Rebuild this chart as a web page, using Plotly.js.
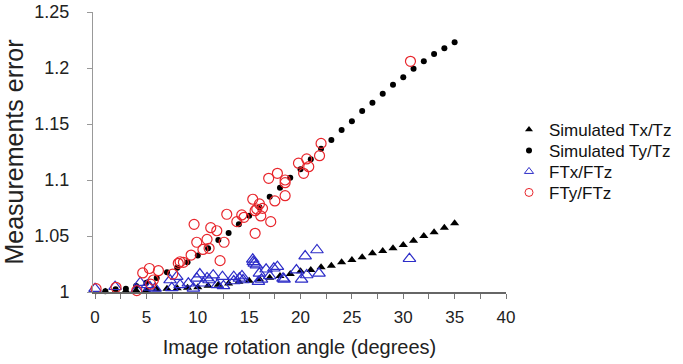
<!DOCTYPE html>
<html>
<head>
<meta charset="utf-8">
<script src="https://cdn.plot.ly/plotly-3.0.1.min.js"></script>
<style>html,body{margin:0;padding:0;background:#fff;}#chart{width:683px;height:364px;}</style>
</head>
<body>
<div id="chart"></div>
<script>
// Simulated series (every degree from 1 to 35)
var simAngle = [1,2,3,4,5,6,7,8,9,10,11,12,13,14,15,16,17,18,19,20,21,22,23,24,25,26,27,28,29,30,31,32,33,34,35];
var simTx = [1.0003,1.0006,1.0010,1.0014,1.0018,1.0024,1.0028,1.0033,1.0037,1.0042,1.0056,1.0065,1.0077,1.0092,1.0100,1.0113,1.0128,1.0143,1.0160,1.0185,1.0196,1.0220,1.0235,1.0265,1.0286,1.0310,1.0345,1.0366,1.0390,1.0420,1.0458,1.0500,1.0533,1.0574,1.0613];
var simTy = [1.0006,1.0024,1.0030,1.0054,1.0083,1.0125,1.0176,1.0217,1.0265,1.0327,1.0390,1.0464,1.0527,1.0604,1.0680,1.0756,1.0850,1.0930,1.1020,1.1095,1.1185,1.1280,1.1357,1.1446,1.1524,1.1616,1.1690,1.1770,1.1850,1.1917,1.1994,1.2060,1.2125,1.2176,1.2230];

// Measured FTx/FTz
var ftxAngle = [0,1.95,4.06,4.4,5.1,5.36,5.84,7.3,7.47,7.95,8.28,9.08,9.57,9.9,10.2,10.55,10.9,11.1,11.5,11.9,12.4,12.5,13.5,13.5,14.05,14.3,14.4,15.35,15.4,15.5,15.7,15.9,16.0,16.2,16.65,17.0,17.4,17.75,18.3,18.4,19.6,20.1,20.45,20.6,21.6,21.8,30.6];
var ftxVal = [1.0030,1.0047,1.0018,1.0083,1.0063,1.0042,1.0033,1.0107,1.0036,1.0137,1.0063,1.0078,1.0033,1.0122,1.0160,1.0078,1.0125,1.0107,1.0150,1.0063,1.0137,1.0054,1.0098,1.0137,1.0122,1.0143,1.0107,1.0292,1.0270,1.0256,1.0240,1.0092,1.0167,1.0113,1.0203,1.0143,1.0212,1.0226,1.0122,1.0113,1.0196,1.0113,1.0321,1.0152,1.0375,1.0167,1.0297];

// Measured FTy/FTz
var ftyAngle = [0.1,2.04,4.06,4.64,5.29,5.42,5.68,6.17,7.56,8.1,8.28,8.6,9.35,9.64,9.9,10.5,10.9,11.1,11.26,11.85,12.17,12.56,12.82,13.8,14.28,14.5,15.35,15.58,15.74,15.58,16.0,16.13,16.3,16.9,17.1,17.5,17.75,18.5,18.5,18.5,19.8,20.3,20.6,20.8,21.85,22.0,30.7];
var ftyVal = [1.0030,1.0042,1.0012,1.0170,1.0210,1.0070,1.0107,1.0190,1.0160,1.0256,1.0270,1.0265,1.0330,1.0604,1.0444,1.0380,1.0470,1.0390,1.0574,1.0547,1.0280,1.0444,1.0694,1.0628,1.0688,1.0667,1.0828,1.0726,1.0741,1.0524,1.0786,1.0679,1.0747,1.1015,1.0628,1.0813,1.1060,1.1000,1.0976,1.0860,1.1150,1.1060,1.1188,1.1119,1.1217,1.1327,1.2060];

var seriesNames = ['Simulated Tx/Tz', 'Simulated Ty/Tz', 'FTx/FTz', 'FTy/FTz'];
var xTicks = [0,5,10,15,20,25,30,35,40];
var yTicks = [1,1.05,1.1,1.15,1.2,1.25];
var yTickText = ['1','1.05','1.1','1.15','1.2','1.25'];

var FONT = 'Liberation Sans, Arial, sans-serif';
var RED = '#e8262c';
var BLUE = '#2d2dc8';

var markerStyles = [
  {symbol: 'triangle-up', color: '#000', size: 8},
  {symbol: 'circle', color: '#000', size: 6},
  {symbol: 'triangle-up-open', color: BLUE, size: 11, line: {width: 1.2, color: BLUE}},
  {symbol: 'circle-open', color: RED, size: 10, line: {width: 1.2, color: RED}}
];
var legendMarkers = [
  {symbol: 'triangle-up', color: '#000', size: 7},
  {symbol: 'circle', color: '#000', size: 6},
  {symbol: 'triangle-up-open', color: BLUE, size: 8, line: {width: 1, color: BLUE}},
  {symbol: 'circle-open', color: RED, size: 8, line: {width: 1, color: RED}}
];
var xs = [simAngle, simAngle, ftxAngle, ftyAngle];
var ys = [simTx, simTy, ftxVal, ftyVal];
var legendIds = ['legend', 'legend2', 'legend3', 'legend4'];
var legendRowY = [0.579, 0.504, 0.429, 0.354];

var traces = [];
for (var i = 0; i < 4; i++) {
  traces.push({x: xs[i], y: ys[i], name: seriesNames[i], type: 'scatter', mode: 'markers',
               cliponaxis: false, showlegend: false, marker: markerStyles[i]});
}
// legend-only entries (no data points)
for (var j = 0; j < 4; j++) {
  traces.push({x: [null], y: [null], name: seriesNames[j], type: 'scatter', mode: 'markers',
               showlegend: true, legend: legendIds[j], marker: legendMarkers[j]});
}

var layout = {
  width: 683, height: 364,
  margin: {l: 93, r: 177, t: 12, b: 72},
  paper_bgcolor: '#fff', plot_bgcolor: '#fff',
  font: {family: FONT, color: '#222', size: 17},
  xaxis: {
    range: [-0.2, 40], tickvals: xTicks, ticks: 'outside', ticklen: 5, tickcolor: '#777',
    showline: true, linecolor: '#666', linewidth: 1.5, showgrid: false, zeroline: false,
    minor: {dtick: 2.5, tick0: 0, ticks: 'outside', ticklen: 5, tickcolor: '#777', showgrid: false},
    tickfont: {family: FONT, size: 17, color: '#222'}, ticklabelstandoff: 4,
    title: {text: 'Image rotation angle (degrees)', font: {family: FONT, size: 20, color: '#222'}, standoff: 14}
  },
  yaxis: {
    range: [1, 1.25], tickvals: yTicks, ticktext: yTickText, ticks: 'outside', ticklen: 5, tickcolor: '#999',
    showline: true, linecolor: '#999', linewidth: 1, showgrid: false, zeroline: false,
    tickfont: {family: FONT, size: 18, color: '#222'}, ticklabelstandoff: 14,
    title: {text: 'Measurements error', font: {family: FONT, size: 25, color: '#222'}, standoff: 8}
  }
};
for (var k = 0; k < 4; k++) {
  layout[legendIds[k]] = {
    xref: 'container', x: 509 / 683, xanchor: 'left',
    yref: 'paper', y: legendRowY[k], yanchor: 'middle',
    font: {family: FONT, size: 17, color: '#111'}, bgcolor: 'rgba(0,0,0,0)', borderwidth: 0
  };
}

Plotly.newPlot('chart', traces, layout, {displayModeBar: false, staticPlot: true});
</script>
</body>
</html>
